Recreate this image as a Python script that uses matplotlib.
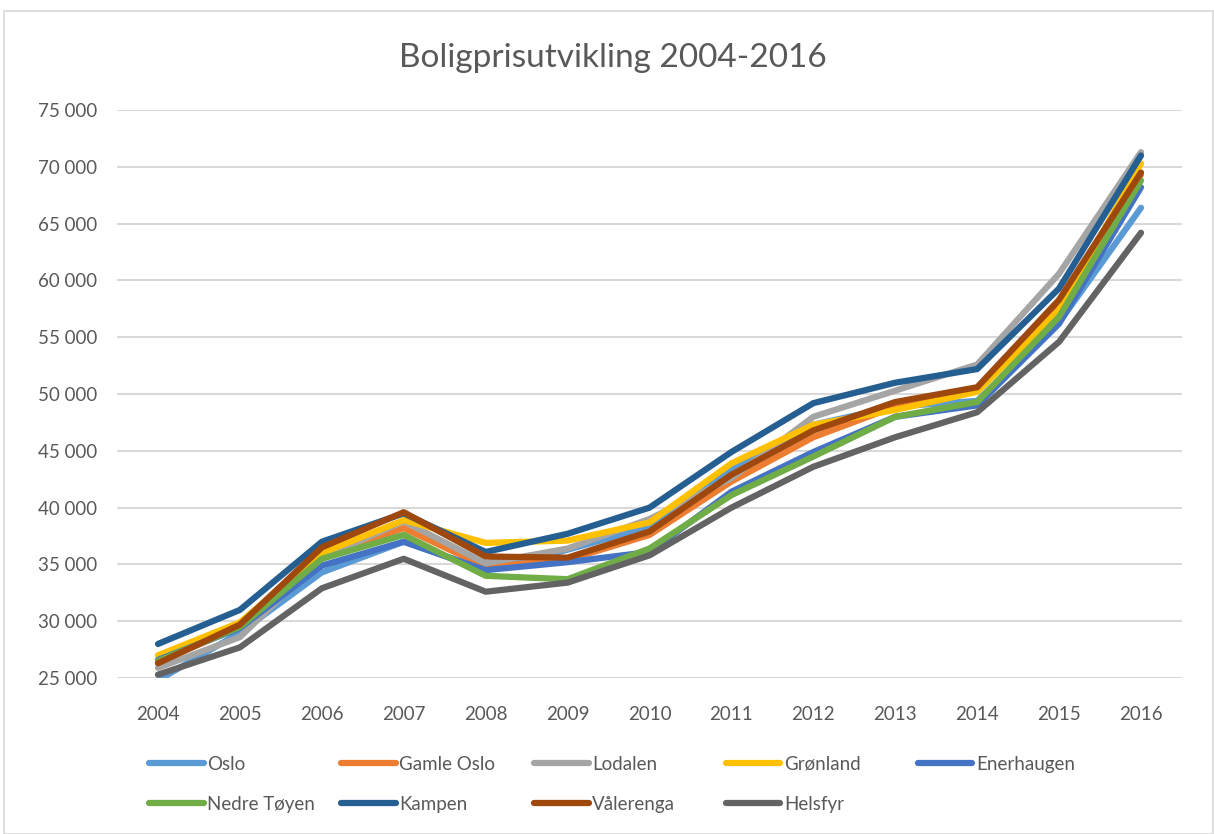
import matplotlib.pyplot as plt
from matplotlib.lines import Line2D
from matplotlib.patches import Rectangle
from matplotlib.ticker import FuncFormatter

plt.rcParams['font.family'] = ['Lato', 'DejaVu Sans']

years = [2004, 2005, 2006, 2007, 2008, 2009, 2010, 2011, 2012, 2013, 2014, 2015, 2016]

oslo = [24800, 29000, 34300, 37000, 34500, 36300, 38300, 43500, 47300, 48900, 49400, 56300, 66400]
gamle_oslo = [26400, 29500, 35700, 38200, 34800, 35400, 37600, 42300, 46200, 48900, 50300, 58000, 69300]
lodalen = [25900, 28600, 35600, 38800, 35100, 36400, 39000, 42600, 48000, 50300, 52600, 60600, 71300]
gronland = [27000, 29900, 36000, 38900, 36900, 37100, 38700, 43900, 47300, 48600, 50200, 57400, 70300]
enerhaugen = [26600, 29400, 34900, 37000, 34500, 35200, 36100, 41400, 44900, 48000, 49000, 56200, 68200]
nedre_toyen = [26500, 29500, 35500, 37600, 34000, 33700, 36400, 41100, 44500, 48000, 49300, 56800, 68800]
kampen = [28000, 31000, 37000, 39500, 36100, 37700, 40000, 44900, 49200, 51000, 52200, 59300, 71000]
valerenga = [26300, 29700, 36500, 39600, 35700, 35600, 37900, 42900, 46800, 49300, 50600, 58300, 69500]
helsfyr = [25300, 27700, 32900, 35500, 32600, 33400, 35800, 40000, 43600, 46200, 48400, 54600, 64200]

names = ['Oslo', 'Gamle Oslo', 'Lodalen', 'Grønland', 'Enerhaugen',
         'Nedre Tøyen', 'Kampen', 'Vålerenga', 'Helsfyr']
series = [oslo, gamle_oslo, lodalen, gronland, enerhaugen,
          nedre_toyen, kampen, valerenga, helsfyr]
colors = ['#5B9BD5', '#ED7D31', '#A5A5A5', '#FFC000', '#4472C4',
          '#70AD47', '#255E91', '#9E480E', '#636363']

txt = '#595959'

fig = plt.figure(figsize=(12.14, 8.34), dpi=100)
fig.patches.append(Rectangle((0.003, 0.0), 0.996, 0.987, transform=fig.transFigure,
                             fill=False, edgecolor='#D9D9D9', lw=1.2))
ax = fig.add_axes([0.0964, 0.187, 0.8772, 0.681])

x = list(range(len(years)))
for vals, name, col in zip(series, names, colors):
    ax.plot(x, vals, color=col, lw=4.5, solid_capstyle='round',
            solid_joinstyle='round', label=name)

ax.set_xlim(-0.5, len(years) - 0.5)
ax.set_ylim(25000, 75000)
ax.set_yticks(range(25000, 75001, 5000))
ax.yaxis.set_major_formatter(FuncFormatter(lambda v, p: f'{int(v):,}'.replace(',', ' ')))
ax.set_xticks(x)
ax.set_xticklabels([str(y) for y in years])
ax.grid(axis='y', color='#D9D9D9', lw=1.5)
ax.set_axisbelow(True)
for s in ax.spines.values():
    s.set_visible(False)
ax.tick_params(length=0, labelsize=13.5, labelcolor=txt)
ax.tick_params(axis='x', pad=20)
ax.tick_params(axis='y', pad=14)

fig.text(0.505, 0.93, 'Boligprisutvikling 2004-2016', ha='center', va='center',
         fontsize=24, color=txt)

# legend: five equal-width columns, two rows
handles = [Line2D([], [], color=c, lw=4.5, solid_capstyle='round') for c in colors]
col_x = [0.123, 0.281, 0.440, 0.598, 0.756]
for i, cx in enumerate(col_x):
    idx = [j for j in (i, i + 5) if j < len(names)]
    leg = fig.legend([handles[j] for j in idx], [names[j] for j in idx],
                     loc='upper left', bbox_to_anchor=(cx, 0.094), frameon=False,
                     fontsize=13.5, handlelength=2.9, handletextpad=0.2,
                     labelspacing=1.25, borderaxespad=0, borderpad=0)
    for t in leg.get_texts():
        t.set_color(txt)

fig.savefig('out.png', dpi=100)
